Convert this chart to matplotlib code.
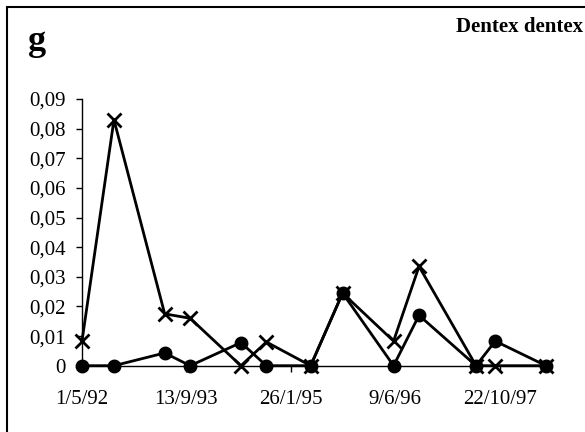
import numpy as np
import datetime as dt
import matplotlib
matplotlib.use("Agg")
import matplotlib.pyplot as plt
import matplotlib.dates as mdates
from matplotlib.patches import Rectangle

# sampling dates and the two series
dates = ["1992-05-01", "1992-10-01", "1993-06-01", "1993-10-01", "1994-06-01",
         "1994-10-01", "1995-05-01", "1995-10-01", "1996-06-01", "1996-10-01",
         "1997-07-01", "1997-10-01", "1998-06-01"]
crosses = [0.0083, 0.0830, 0.0175, 0.0160, 0.0, 0.0080, 0.0, 0.0245,
           0.0083, 0.0335, 0.0, 0.0, 0.0]
circles = [0.0, 0.0, 0.0043, 0.0, 0.0078, 0.0, 0.0, 0.0245,
           0.0, 0.0170, 0.0, 0.0083, 0.0]
tick_dates = ["1992-05-01", "1993-09-13", "1995-01-26", "1996-06-09", "1997-10-22"]
tick_labels = ["1/5/92", "13/9/93", "26/1/95", "9/6/96", "22/10/97"]
y_ticks = [0, 0.01, 0.02, 0.03, 0.04, 0.05, 0.06, 0.07, 0.08, 0.09]
y_labels = ["0", "0,01", "0,02", "0,03", "0,04", "0,05", "0,06", "0,07", "0,08", "0,09"]

x = [dt.datetime.strptime(d, "%Y-%m-%d") for d in dates]
xt = [dt.datetime.strptime(d, "%Y-%m-%d") for d in tick_dates]

plt.rcParams['font.family'] = ['Liberation Serif', 'DejaVu Serif']

fig = plt.figure(figsize=(5.85, 4.32), dpi=100)
ax = fig.add_axes([82/585, 66.3/432, (546-82)/585, (365.7-99)/432])

ax.plot(x, circles, color="black", lw=2, marker="o", ms=9, clip_on=False, zorder=3)
ax.plot(x, crosses, color="black", lw=2, marker="x", ms=10, mew=2, clip_on=False, zorder=4)

ax.set_xlim(x[0], x[-1])
ax.set_ylim(0, 0.09)
ax.set_xticks(xt)
ax.set_xticklabels(tick_labels, fontsize=15)
ax.set_yticks(y_ticks)
ax.set_yticklabels(y_labels, fontsize=15)
ax.tick_params(axis="both", direction="out", length=4.5, width=1, color="black")
ax.tick_params(axis="x", pad=13)
ax.tick_params(axis="y", pad=7)
for s in ["top", "right"]:
    ax.spines[s].set_visible(False)
for s in ["left", "bottom"]:
    ax.spines[s].set_linewidth(1)

fig.text(28/585, 1 - 50/432, "g", fontsize=26, fontweight="bold", ha="left", va="baseline")
fig.text(583/585, 1 - 32/432, "Dentex dentex", fontsize=15, fontweight="bold", ha="right", va="baseline")

# outer chart frame (cut off at right and bottom)
fig.patches.append(Rectangle((7/585, -0.2), 1.5, 1.2 - 7/432, transform=fig.transFigure,
                             fill=False, lw=1.5, edgecolor="black"))

fig.savefig("out.png", dpi=100)
